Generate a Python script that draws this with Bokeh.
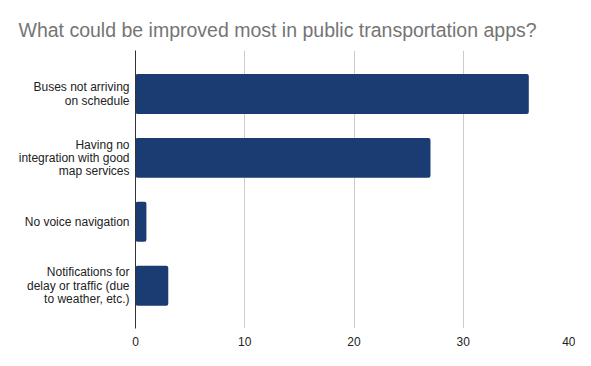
from bokeh.plotting import figure
from bokeh.models import Range1d, FixedTicker
from bokeh.embed import file_html
from bokeh.resources import INLINE

categories = [
    "Buses not arriving\non schedule",
    "Having no\nintegration with good\nmap services",
    "No voice navigation",
    "Notifications for\ndelay or traffic (due\nto weather, etc.)",
]
values = [36, 27, 1, 3]
x_ticks = [0, 10, 20, 30, 40]

positions = list(range(len(categories)))
FONT = "Arial"

p = figure(width=575, height=350, output_backend="svg", toolbar_location=None,
           x_range=Range1d(0, 40), y_range=Range1d(3.67, -0.68),
           min_border_left=135, min_border_right=3, min_border_bottom=22, min_border_top=50)

p.hbar(y=positions, right=values, left=0, height=0.625, color="#1b3b73", line_color=None,
       border_radius=2)

p.title.text = "What could be improved most in public transportation apps?"
p.title.text_font = FONT
p.title.text_font_size = "19.5px"
p.title.text_font_style = "normal"
p.title.text_color = "#757575"
p.title.offset = -117
p.title.standoff = 19

p.outline_line_color = None
p.background_fill_color = "white"
p.border_fill_color = "white"

xa = p.xaxis[0]
xa.ticker = FixedTicker(ticks=x_ticks)
xa.axis_line_color = None
xa.major_tick_line_color = None
xa.minor_tick_line_color = None
xa.major_label_text_font = FONT
xa.major_label_text_font_size = "12px"
xa.major_label_text_color = "#222222"
xa.major_label_standoff = 2

ya = p.yaxis[0]
ya.ticker = FixedTicker(ticks=positions)
ya.major_label_overrides = {i: c for i, c in zip(positions, categories)}
ya.axis_line_color = "#333333"
ya.axis_line_width = 1
ya.major_tick_line_color = None
ya.minor_tick_line_color = None
ya.major_label_text_font = FONT
ya.major_label_text_font_size = "12px"
ya.major_label_text_color = "#222222"
ya.major_label_text_align = "right"
ya.major_label_text_line_height = 0.95
ya.major_label_standoff = 0

p.xgrid.ticker = FixedTicker(ticks=x_ticks)
p.xgrid.grid_line_color = "#cccccc"
p.ygrid.grid_line_color = None

open("out.html", "w").write(file_html(p, INLINE))
